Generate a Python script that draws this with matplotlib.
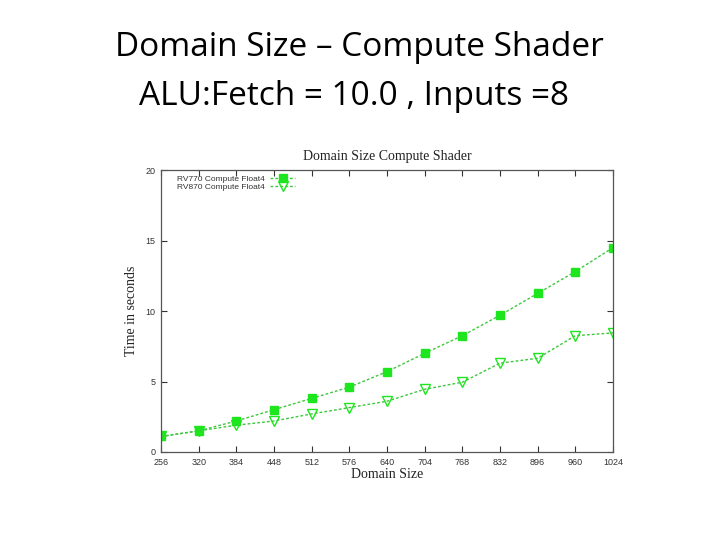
import matplotlib.pyplot as plt

# Данные
domain_size = [256, 320, 384, 448, 512, 576, 640, 704, 768, 832, 896, 960, 1024]
rv770_time = [1.1, 1.5, 2.2, 3.0, 3.8, 4.6, 5.7, 7.0, 8.25, 9.7, 11.25, 12.8, 14.5]
rv870_time = [1.1, 1.5, 1.9, 2.2, 2.7, 3.15, 3.6, 4.45, 4.95, 6.3, 6.65, 8.25, 8.45]
y_ticks = [0, 5, 10, 15, 20]

green = '#1ee61e'
line_green = '#3cc83c'

fig = plt.figure(figsize=(7.2, 5.4), dpi=100)

# Заголовок слайда
fig.text(0.499, 0.912, 'Domain Size – Compute Shader', ha='center', va='center',
         fontsize=24, family='Open Sans', color='black')
fig.text(0.492, 0.822, 'ALU:Fetch = 10.0 , Inputs =8', ha='center', va='center',
         fontsize=24, family='Open Sans', color='black')

ax = fig.add_axes([0.2236, 0.163, 0.6278, 0.522])

ax.plot(domain_size, rv770_time, linestyle='--', dashes=(2, 1.5), color=line_green,
        linewidth=1.0, marker='s', markersize=6, markerfacecolor=green,
        markeredgecolor=green, label='RV770 Compute Float4')
ax.plot(domain_size, rv870_time, linestyle='--', dashes=(2, 1.5), color=line_green,
        linewidth=1.0, marker='v', markersize=6.5, markerfacecolor='none',
        markeredgecolor=green, markeredgewidth=1.0, label='RV870 Compute Float4')

ax.set_xlim(256, 1024)
ax.set_ylim(0, 20)
ax.set_xticks(domain_size)
ax.set_yticks(y_ticks)
ax.tick_params(direction='in', top=True, right=True, length=4, width=0.8,
               labelsize=6.5, colors='#333333', pad=4)
for lbl in ax.get_xticklabels() + ax.get_yticklabels():
    lbl.set_family('Liberation Sans')
for spine in ax.spines.values():
    spine.set_color('#555555')
    spine.set_linewidth(0.9)

ax.set_title('Domain Size Compute Shader', family='Liberation Serif', fontsize=10,
             color='#222222', pad=7)
ax.set_xlabel('Domain Size', family='Liberation Serif', fontsize=10, labelpad=1,
              color='#222222')
ax.set_ylabel('Time in seconds', family='Liberation Serif', fontsize=10, labelpad=5,
              color='#222222')

leg = ax.legend(loc='upper left', frameon=False, markerfirst=False,
                prop={'family': 'Liberation Sans', 'size': 6},
                handlelength=3.0, handletextpad=0.6, borderaxespad=0.2,
                labelspacing=0.05, bbox_to_anchor=(0.025, 1.0))
for t in leg.get_texts():
    t.set_color('#333333')

fig.savefig('out.png', dpi=100)
